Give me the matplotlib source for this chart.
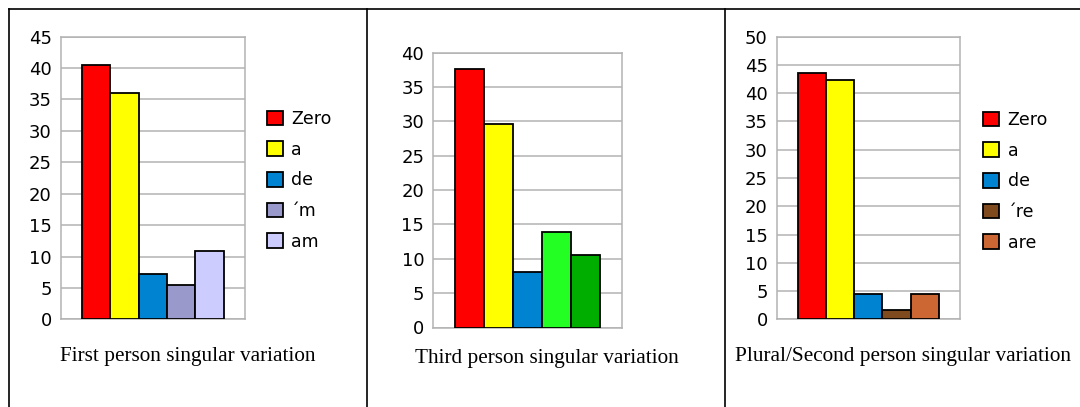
import matplotlib
matplotlib.use("Agg")
import matplotlib.pyplot as plt
from matplotlib.lines import Line2D
from matplotlib.patches import Patch

# ---- data ----
titles = ["First person singular variation",
          "Third person singular variation",
          "Plural/Second person singular variation"]

labels1 = ["Zero", "a", "de", "\u00b4m", "am"]
values1 = [40.5, 36.0, 7.2, 5.5, 10.9]
colors1 = ["#ff0000", "#ffff00", "#0084d1", "#9999cc", "#ccccff"]

labels2 = ["Zero", "a", "de", "x", "y"]
values2 = [37.7, 29.6, 8.1, 13.9, 10.5]
colors2 = ["#ff0000", "#ffff00", "#0084d1", "#23ff23", "#00ae00"]

labels3 = ["Zero", "a", "de", "\u00b4re", "are"]
values3 = [43.6, 42.4, 4.5, 1.7, 4.4]
colors3 = ["#ff0000", "#ffff00", "#0084d1", "#7e4a1e", "#cc6633"]

yticks1 = [0, 5, 10, 15, 20, 25, 30, 35, 40, 45]
yticks2 = [0, 5, 10, 15, 20, 25, 30, 35, 40]
yticks3 = [0, 5, 10, 15, 20, 25, 30, 35, 40, 45, 50]

W, H = 1080, 407
fig = plt.figure(figsize=(W / 100, H / 100), dpi=100)
fig.patch.set_facecolor("white")

def px_axes(x0, x1, y0, y1):
    return fig.add_axes([x0 / W, 1 - y1 / H, (x1 - x0) / W, (y1 - y0) / H])

grid_c = "#b3b3b3"

def draw(ax, values, colors, yticks):
    xs = list(range(len(values)))
    ax.bar(xs, values, width=1.0, color=colors, edgecolor="black",
           linewidth=1.3, zorder=3)
    ax.set_xlim(-1.25, 5.25)
    ax.set_ylim(yticks[0], yticks[-1])
    ax.set_yticks(yticks)
    ax.set_yticklabels([str(t) for t in yticks])
    ax.set_xticks([])
    ax.yaxis.grid(True, color=grid_c, linewidth=1.1, zorder=0)
    ax.set_axisbelow(True)
    for s in ax.spines.values():
        s.set_color(grid_c)
        s.set_linewidth(1.1)
    ax.tick_params(axis="y", length=0, pad=6.5, labelsize=13,
                   labelcolor="black")

ax1 = px_axes(60.7, 245, 36.7, 319.3)
draw(ax1, values1, colors1, yticks1)
ax2 = px_axes(433.3, 621.7, 52.7, 327.5)
draw(ax2, values2, colors2, yticks2)
ax3 = px_axes(776.7, 960, 36.7, 319.3)
draw(ax3, values3, colors3, yticks3)

def legend(labels, colors, x, y):
    handles = [Patch(facecolor=c, edgecolor="black", linewidth=1.3)
               for c in colors]
    fig.legend(handles, labels, loc="upper left",
               bbox_to_anchor=(x / W, 1 - y / H),
               bbox_transform=fig.transFigure, frameon=False,
               fontsize=12.5, handlelength=0.92, handleheight=0.92,
               handletextpad=0.48, labelspacing=0.73, borderpad=0,
               borderaxespad=0)

legend(labels1, colors1, 266.7, 110)
legend(labels3, colors3, 983.3, 111)

title_pos = [(188, 357), (546.5, 358), (903.3, 356.7)]
for t, (x, y) in zip(titles, title_pos):
    fig.text(x / W, 1 - y / H, t, ha="center", va="center",
             family="Liberation Serif", fontsize=15.3, color="black")

# table borders
def fline(x0, y0, x1, y1):
    fig.add_artist(Line2D([x0 / W, x1 / W], [1 - y0 / H, 1 - y1 / H],
                          transform=fig.transFigure, color="black",
                          linewidth=1.2))

fline(9.3, 9.3, 1080, 9.3)
fline(9.3, 9.3, 9.3, 407)
fline(366.7, 9.3, 366.7, 407)
fline(724.5, 9.3, 724.5, 407)

fig.savefig("out.png", dpi=100)
